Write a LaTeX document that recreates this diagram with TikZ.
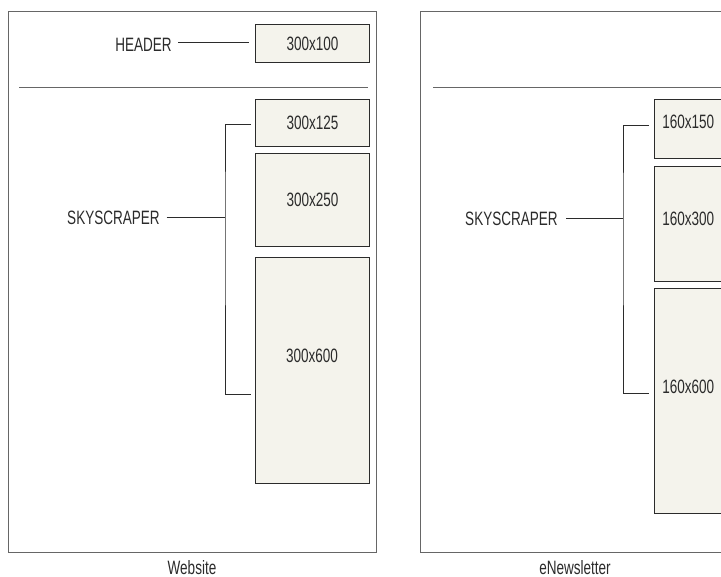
\documentclass[tikz,border=0pt]{standalone}
\usepackage{fontspec}
\setmainfont{Liberation Sans}[FakeStretch=0.7]
\usetikzlibrary{positioning}

\definecolor{adfill}{HTML}{F4F3EC}
\definecolor{ink}{HTML}{2B2B2B}

\begin{document}
\begin{tikzpicture}[
    x = 0.75pt, y = -0.75pt,
    panel/.style = {rectangle, draw=black!60, line width=0.8pt, anchor=north west, inner sep=0pt},
    adbox/.style = {rectangle, draw=ink, fill=adfill, line width=0.8pt, anchor=north west, inner sep=0pt, text=ink, font=\fontsize{14.5}{16}\selectfont},
    tag/.style = {inner sep=0pt, text=ink, font=\fontsize{14.5}{16}\selectfont},
    link/.style = {draw=ink, line width=0.75pt}
]
\useasboundingbox (0,0) rectangle (721,577);
\clip (0,0) rectangle (721,577);

% Website panel
\node[panel, minimum width=276pt, minimum height=405.75pt] (web) at (8,11) {};
\draw[link, draw=black!60] (19,88) -- (368,88);
\node[tag] (webcap) at (192,568) {Website};

\node[adbox, minimum width=85.5pt, minimum height=28.5pt] (h100) at (255,24) {300x100};
\node[adbox, minimum width=85.5pt, minimum height=35.25pt] (s125) at (255,99) {300x125};
\node[adbox, minimum width=85.5pt, minimum height=69.75pt] (s250) at (255,153) {300x250};
\node[adbox, minimum width=85.5pt, minimum height=169.5pt] (s600) at (255,257) {};
\node[tag] (s600t) at (312,356) {300x600};

\node[tag, anchor=east] (header) at (172,45) {HEADER};
\node[tag, anchor=east] (wsky) at (160,218) {SKYSCRAPER};

\coordinate (wtop) at (251,125);
\coordinate (wbot) at (251,394);
\coordinate (wspine) at (225,218);
\draw[link, shorten <=4.5pt, shorten >=4.5pt] (header.east |- 0,43) -- (h100.west |- 0,43);
\draw[link] (wtop) -| (wspine) |- (wbot);
\draw[link, shorten <=5pt] (wsky.east) -- (wspine);

% eNewsletter panel
\node[panel, minimum width=276pt, minimum height=405.75pt] (news) at (420,11) {};
\draw[link, draw=black!60] (433,88) -- (780,88);
\node[tag] (newscap) at (575,568) {eNewsletter};

\node[adbox, minimum width=85.5pt, minimum height=44.25pt] (n150) at (654,99) {};
\node[adbox, minimum width=85.5pt, minimum height=86.25pt] (n300) at (654,166) {};
\node[adbox, minimum width=85.5pt, minimum height=168.75pt] (n600) at (654,288) {};
\node[tag, anchor=west] (n150t) at (662,122) {160x150};
\node[tag, anchor=west] (n300t) at (662,219) {160x300};
\node[tag, anchor=west] (n600t) at (662,387) {160x600};

\node[tag, anchor=east] (nsky) at (558,219) {SKYSCRAPER};

\coordinate (ntop) at (649,126);
\coordinate (nbot) at (649,393);
\coordinate (nspine) at (623,219);
\draw[link] (ntop) -| (nspine) |- (nbot);
\draw[link, shorten <=6pt] (nsky.east) -- (nspine);

\end{tikzpicture}
\end{document}
